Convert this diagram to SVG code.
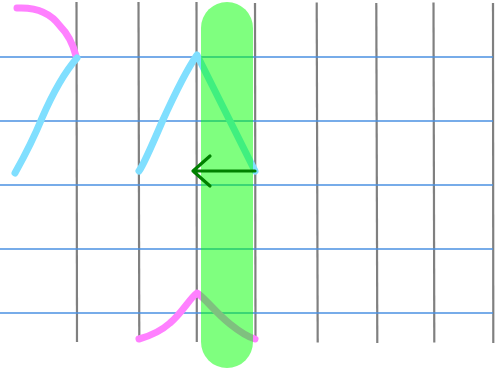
<svg xmlns="http://www.w3.org/2000/svg" width="495" height="369" viewBox="0 0 495 369">
<defs>
<style>
.v{stroke:#808080;stroke-width:2.2;fill:none}
.h{stroke:#4a90e2;stroke-width:1.5;fill:none}
.cy{stroke:#80dfff;stroke-width:7;fill:none;stroke-linecap:round;stroke-linejoin:round}
.pk{stroke:#ff80ff;stroke-width:7;fill:none;stroke-linecap:round;stroke-linejoin:round}
.cap{fill:#00ff00;fill-opacity:0.5}
.ar{stroke:#008000;stroke-width:3.2;fill:none;stroke-linecap:round;stroke-linejoin:round}
</style>
</defs>
<g id="grid">
<line class="v" x1="76.5" y1="2" x2="77" y2="342"/>
<line class="v" x1="138.5" y1="2" x2="139.3" y2="342"/>
<line class="v" x1="196.5" y1="2" x2="196.8" y2="342"/>
<line class="v" x1="255" y1="3" x2="255.5" y2="342"/>
<line class="v" x1="316.7" y1="2.5" x2="317.7" y2="342.5"/>
<line class="v" x1="376.3" y1="3" x2="377.3" y2="343"/>
<line class="v" x1="433.5" y1="2.5" x2="434.3" y2="342.5"/>
<line class="v" x1="493" y1="3" x2="493.3" y2="343"/>
<line class="h" x1="0" y1="57" x2="493" y2="57"/>
<line class="h" x1="0" y1="121" x2="493" y2="121"/>
<line class="h" x1="0" y1="185" x2="493" y2="185"/>
<line class="h" x1="0" y1="249" x2="493" y2="249"/>
<line class="h" x1="0" y1="313" x2="493" y2="313"/>
</g>
<g id="strokes">
<path class="pk" d="M17,8 C35,7 50,12 60,26 C68,34 73,44 76,56"/>
<path class="cy" d="M15,173 C24,157 33,140 42,118 C52,95 63,74 77,58"/>
<path class="cy" d="M139,171 C143,166 150,150 162,122 C172,100 185,72 197,55 L255,171"/>
<path class="pk" d="M139,339 C150,336 160,332 170,323 C182,313 190,298 197,293 C205,298 215,312 230,324 C240,332 248,337 255,339"/>
</g>
<g id="capsule">
<rect class="cap" x="201" y="2" width="52" height="366" rx="26" ry="26"/>
</g>
<g id="connectors">
<path class="ar" d="M255,171 L193,171 M210,156 L193,171 L210,186"/>
</g>
</svg>
